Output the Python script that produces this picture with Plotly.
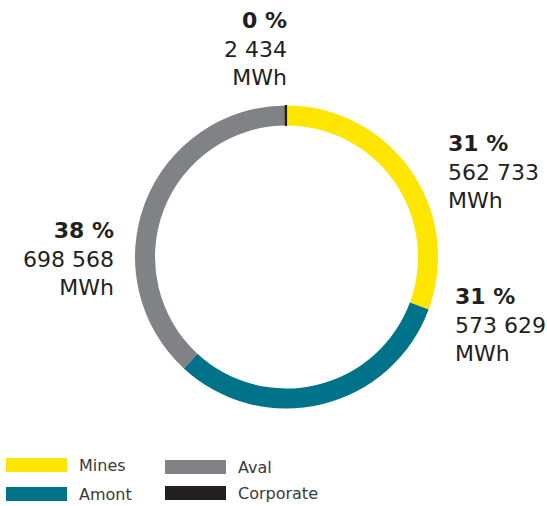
import plotly.graph_objects as go

# Energy consumption by segment
segments = ["Mines", "Amont", "Aval", "Corporate"]
energy_mwh = [562733, 573629, 698568, 2434]
colors = ["#FFE600", "#00728A", "#808285", "#231F20"]
unit = "MWh"

# Legend layout order (two columns)
legend_order = ["Mines", "Amont", "Aval", "Corporate"]

W, H = 547, 506
FONT = "DejaVu Sans"
TEXT_COLOR = "#231F20"
LEGEND_TEXT = "#3A3A3C"


def px(x):
    return x / W


def py(y):
    return 1 - y / H


# Donut geometry in pixels
cx, cy, r = 286.5, 257, 151.5

fig = go.Figure(
    go.Pie(
        labels=segments,
        values=energy_mwh,
        marker=dict(
            colors=colors,
            # thin outline only on the tiny slice so it stays visible
            line=dict(color=colors, width=[0, 0, 0, 1.2]),
        ),
        hole=0.868,
        sort=False,
        direction="clockwise",
        rotation=0,
        textinfo="none",
        hoverinfo="label+value+percent",
        showlegend=False,
        domain=dict(x=[px(cx - r), px(cx + r)], y=[py(cy + r), py(cy - r)]),
    )
)

total = sum(energy_mwh)


def fmt(v):
    return f"{v:,}".replace(",", " ")


# Callout positions (anchor x, centre y of middle line, alignment)
label_pos = {
    "Mines": (446, 172.5, "left"),
    "Amont": (453, 324.5, "left"),
    "Aval": (116, 258.5, "right"),
    "Corporate": (289, 48.5, "right"),
}

annotations = []
for name, val in zip(segments, energy_mwh):
    x, y, al = label_pos[name]
    pct = round(val / total * 100)
    annotations.append(
        dict(
            x=px(x), y=py(y), xref="paper", yref="paper",
            xanchor=al, yanchor="middle", align=al,
            text=f"<b>{pct} %</b><br>{fmt(val)}<br>{unit}",
            showarrow=False,
            font=dict(family=FONT, size=22, color=TEXT_COLOR),
        )
    )

# Legend drawn as wide swatches with labels: (swatch x, swatch top y, text centre y)
legend_xy = {
    "Mines": (6, 458, 465),
    "Amont": (6, 487, 494),
    "Aval": (165, 460, 467),
    "Corporate": (165, 486, 493.5),
}
shapes = []
for name in legend_order:
    x0, y0, ty = legend_xy[name]
    col = colors[segments.index(name)]
    shapes.append(
        dict(type="rect", xref="paper", yref="paper",
             x0=px(x0), x1=px(x0 + 61), y0=py(y0 + 14), y1=py(y0),
             fillcolor=col, line=dict(width=0))
    )
    annotations.append(
        dict(x=px(x0 + 71), y=py(ty), xref="paper", yref="paper",
             xanchor="left", yanchor="middle", text=name, showarrow=False,
             font=dict(family=FONT, size=16, color=LEGEND_TEXT))
    )

fig.update_layout(
    width=W, height=H,
    margin=dict(l=0, r=0, t=0, b=0),
    paper_bgcolor="white", plot_bgcolor="white",
    annotations=annotations, shapes=shapes,
)

fig.write_html("out.html")
